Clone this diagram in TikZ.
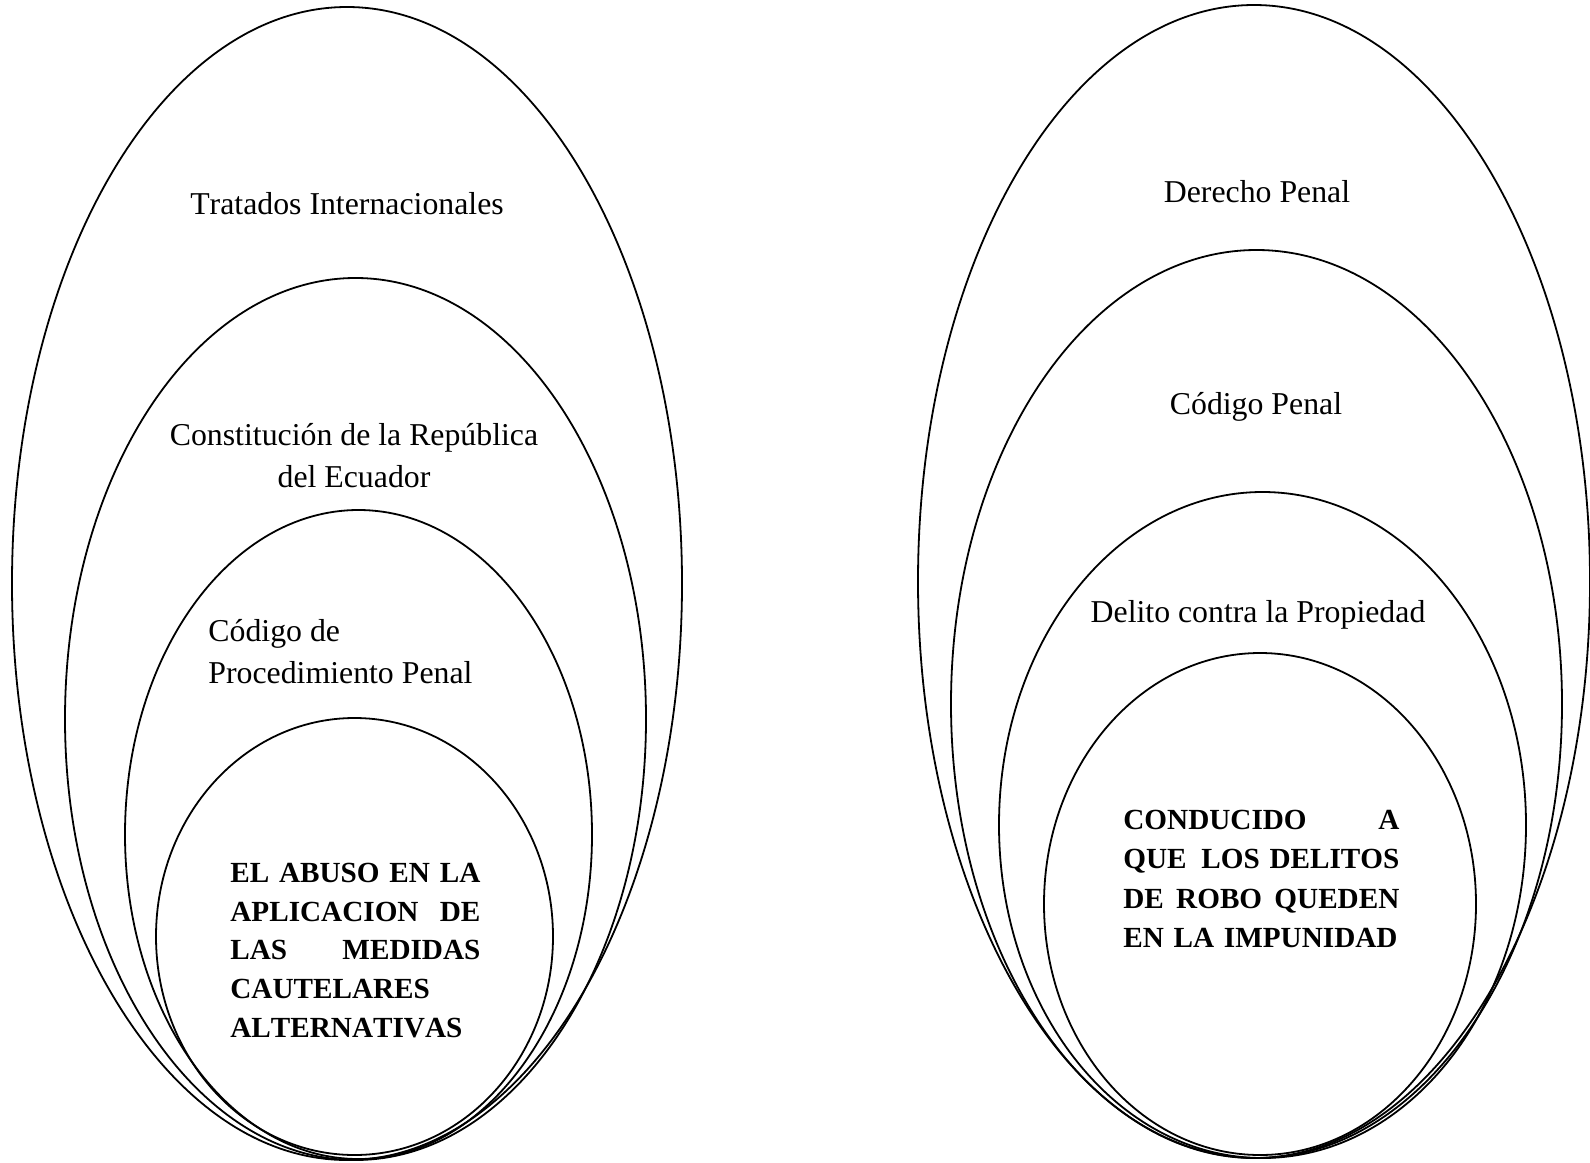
\documentclass[tikz,border=0pt]{standalone}
\usepackage{fontspec}
\setmainfont[Kerning=Off]{Liberation Serif}
\usepackage{tikz}
\usetikzlibrary{positioning}
\setlength{\parindent}{0pt}
\tikzstyle{ring} = [draw, line width=0.9pt]
\tikzstyle{tag} = [inner sep=0pt, align=center,
font=\fontsize{15.9}{21}\selectfont]
\newcommand{\jline}[2]{\makebox[#1][l]{#2}}

\begin{document}
\begin{tikzpicture}[x=0.5pt, y=-0.5pt,
	core/.style={inner sep=0pt, align=left, anchor=north west,
		font=\fontsize{14.6}{19.3}\selectfont\bfseries}]
	\useasboundingbox (0,0) rectangle (1590,1162);
	% Left rings
	\draw [ring] (347,583.5) ellipse [x radius=335, y radius=576.5];
	\draw [ring] (355.5,719) ellipse [x radius=290.5, y radius=441];
	\draw [ring] (358.5,834.5) ellipse [x radius=233.5, y radius=324.5];
	\draw [ring] (354.5,936.5) ellipse [x radius=198.5, y radius=218.5];
	% Right rings
	\draw [ring] (1254,581.5) ellipse [x radius=336, y radius=576.5];
	\draw [ring] (1256.5,704) ellipse [x radius=305.5, y radius=454];
	\draw [ring] (1262.5,825) ellipse [x radius=263.5, y radius=333];
	\draw [ring] (1260,904) ellipse [x radius=216, y radius=251];
	%% Texts
	% Left
	\node [tag] at (347,204) (tratados) {Tratados Internacionales};
	\node [tag] at (354,456) (constitucion) {Constitución de la República\\del Ecuador};
	\node [tag, align=left, anchor=west] at (208,652) (procedimiento) {Código de\\Procedimiento Penal};
	\node [core, text width=126pt] at (230,863) (abuso) {\jline{125pt}{EL\hfill ABUSO\hfill EN\hfill LA}\\
		\jline{125pt}{APLICACION\hfill DE}\\
		\jline{125pt}{LAS\hfill MEDIDAS}\\
		\mbox{CAUTELARES}\\
		\mbox{ALTERNATIVAS}};
	% Right
	\node [tag] at (1257,192) (derecho) {Derecho Penal};
	\node [tag] at (1256,407) (codigo) {Código Penal};
	\node [tag] at (1258,615) (delito) {Delito contra la Propiedad};
	\node [core, text width=140pt, font=\fontsize{14.6}{19.6}\selectfont\bfseries] at (1123,810) (impunidad) {\jline{138pt}{CONDUCIDO\hfill A}\\
		\jline{138pt}{QUE\ \hfill LOS DELITOS}\\
		\jline{138pt}{DE\hfill ROBO\hfill QUEDEN}\\
		\mbox{EN LA IMPUNIDAD}};
\end{tikzpicture}
\end{document}
